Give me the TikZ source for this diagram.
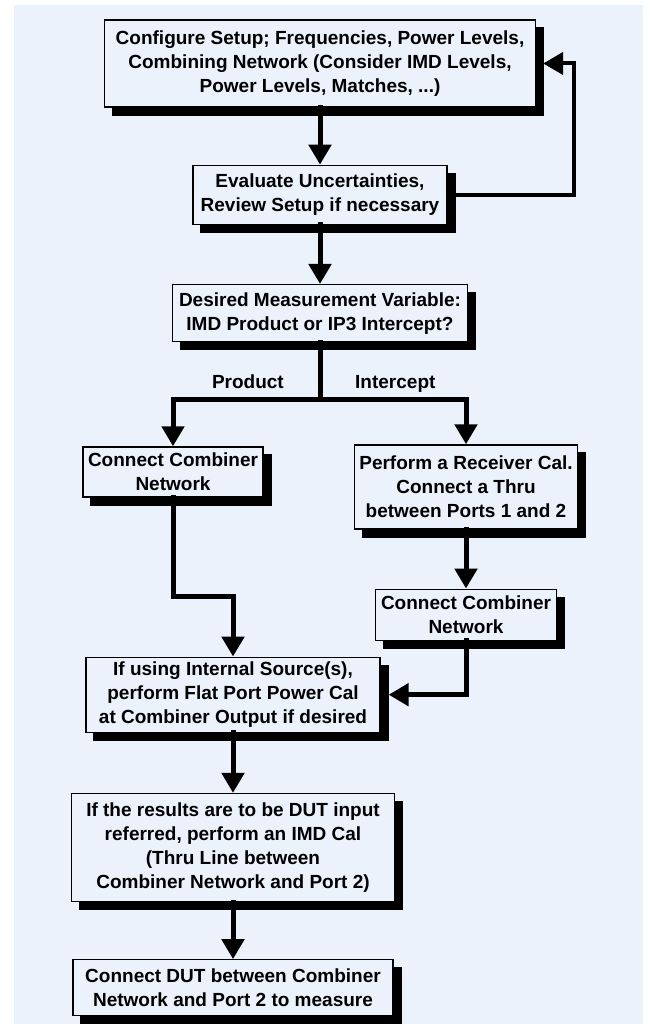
\documentclass[tikz,border=0pt]{standalone}
\usepackage{fontspec}
\setmainfont{Liberation Sans}
\usepackage{tikz}
\usetikzlibrary{positioning,arrows.meta,calc,backgrounds}
\definecolor{paleblue}{HTML}{EBF2FC}
\tikzset{box/.style={draw=black, line width=1.3pt, fill=paleblue, rectangle, align=center, inner sep=2pt,
    font=\bfseries\fontsize{19pt}{24pt}\selectfont}}
\tikzset{flow/.style={line width=5pt, line cap=rect, -{Triangle[width=22pt,length=20pt]}}}
\tikzset{link/.style={line width=5pt, line cap=rect}}
\tikzset{lbl/.style={inner sep=0pt, text height=14pt, text depth=0pt, font=\bfseries\fontsize{19pt}{24pt}\selectfont}}

\begin{document}
\begin{tikzpicture}[x=1pt, y=1pt]
	\useasboundingbox (0,0) rectangle (649,-1024);

	\node[box, minimum width=431pt, minimum height=87pt] (config) at (320,-63.5) {Configure Setup; Frequencies, Power Levels,\\ Combining Network (Consider IMD Levels,\\ Power Levels, Matches, ...)};
	\node[box, minimum width=254pt, minimum height=59pt] (eval) [below=57pt of config] {Evaluate Uncertainties,\\ Review Setup if necessary};
	\node[box, minimum width=295pt, minimum height=57pt] (decide) [below=59pt of eval] {Desired Measurement Variable:\\ IMD Product or IP3 Intercept?};
	\node[box, minimum width=180pt, minimum height=50pt] (combl) [below=104pt of decide, xshift=-147pt] {Connect Combiner\\ Network};
	\node[box, minimum width=223pt, minimum height=84pt] (recv) [below=102pt of decide, xshift=146pt] {Perform a Receiver Cal.\\ Connect a Thru\\ between Ports 1 and 2};
	\node[box, minimum width=181pt, minimum height=51pt] (combr) [below=59pt of recv] {Connect Combiner\\ Network};
	\node[box, minimum width=294pt, minimum height=75pt] (ifsrc) [below=159pt of combl, xshift=60pt] {If using Internal Source(s),\\ perform Flat Port Power Cal\\ at Combiner Output if desired};
	\node[box, minimum width=323pt, minimum height=108pt] (result) [below=60pt of ifsrc] {If the results are to be DUT input\\ referred, perform an IMD Cal\\ (Thru Line between\\ Combiner Network and Port 2)};
	\node[box, minimum width=320pt, minimum height=56pt] (dut) [below=57pt of result] {Connect DUT between Combiner\\ Network and Port 2 to measure};

	% backdrop and box shadows
	\begin{scope}[on background layer]
		\fill[paleblue] (14,-5) rectangle (643,-1024);
		\foreach \n in {config,eval,decide,combl,recv,combr,ifsrc,result,dut}
			\fill[black] ([shift={(8pt,-8pt)}]\n.south west) rectangle ([shift={(8pt,-8pt)}]\n.north east);
	\end{scope}

	\coordinate[right=126pt of eval.east] (back);
	\coordinate[below=57pt of decide] (split);
	\coordinate[below=99pt of combl] (kink);

	\node[lbl] (prod) [left=36pt of split, yshift=18pt] {Product};
	\node[lbl] (icpt) [right=35pt of split, yshift=18pt] {Intercept};

	\draw[flow] (config) -- (eval);
	\draw[flow, line width=4pt, shorten >=7pt] (eval) -- (back) |- (config);
	\draw[flow] (eval) -- (decide);
	\draw[link] (decide) -- (split);
	\draw[flow] (split) -| (combl);
	\draw[flow] (split) -| (recv);
	\draw[flow] (recv) -- (combr);
	\draw[flow] (combl) -- (kink) -| (ifsrc);
	\draw[flow, shorten >=8pt] (combr) |- (ifsrc);
	\draw[flow] (ifsrc) -- (result);
	\draw[flow] (result) -- (dut);
\end{tikzpicture}
\end{document}
